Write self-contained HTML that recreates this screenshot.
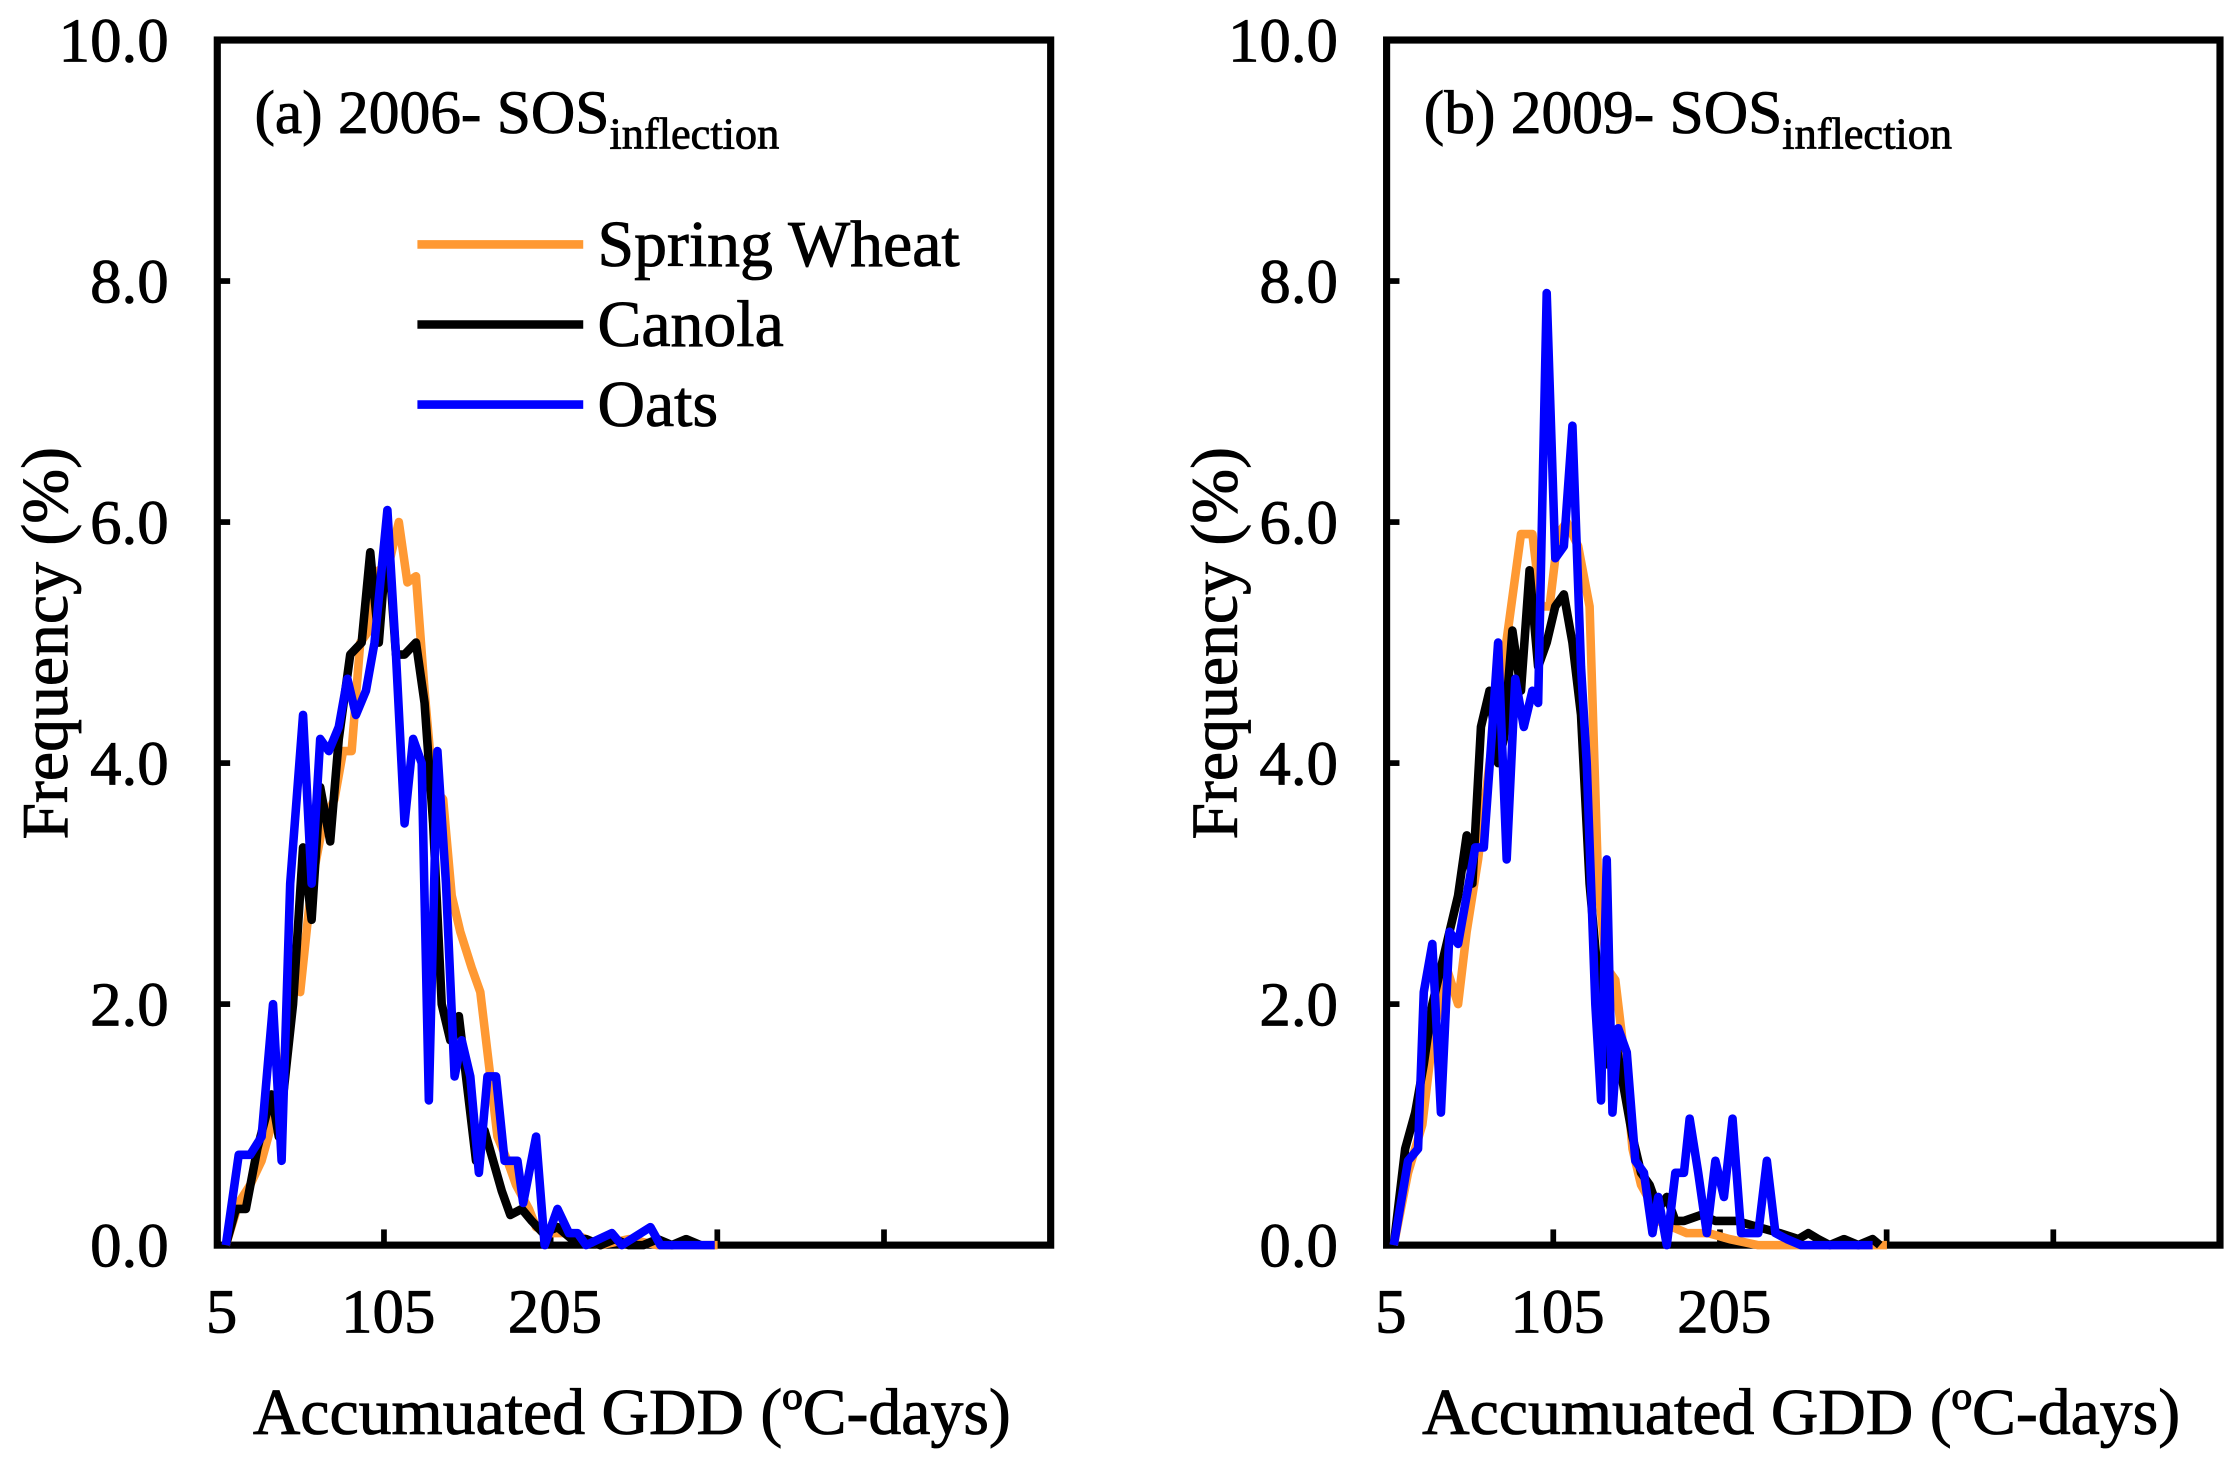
<!DOCTYPE html>
<html><head><meta charset="utf-8"><style>
html,body{margin:0;padding:0;background:#fff;}
svg{display:block;}
text{font-family:"Liberation Serif",serif;fill:#000;stroke:#000;stroke-width:0.6;}
</style></head><body>
<svg id="s" width="2230" height="1466" viewBox="0 0 1560 1025.5" preserveAspectRatio="none" xmlns="http://www.w3.org/2000/svg">
</svg>
<script>
const s=document.getElementById('s');
let h='';
const Y=f=>871-f*84.3;
function panel(ox,title){
  for(let i=0;i<=5;i++){const y=Y(i*2);h+=`<line x1="${ox}" y1="${y}" x2="${ox+9}" y2="${y}" stroke="#000" stroke-width="4"/>`;
    h+=`<text x="${ox-34}" y="${y+15}" font-size="44" text-anchor="end">${(i*2).toFixed(1)}</text>`;}
  [105,205,305,405].forEach(v=>{const x=ox+(v-5)*1.166;h+=`<line x1="${x}" y1="871" x2="${x}" y2="860" stroke="#000" stroke-width="4"/>`;});
  [[5,'5'],[105,'105'],[205,'205']].forEach(([v,t])=>{const x=ox+3+(v-5)*1.166;h+=`<text x="${x}" y="932" font-size="44" text-anchor="middle">${t}</text>`;});
  h+=`<text x="${ox+290}" y="1003" font-size="46" text-anchor="middle">Accumuated GDD (ºC-days)</text>`;
  h+=`<text transform="translate(${ox-105},450) rotate(-90)" font-size="46" text-anchor="middle">Frequency (%)</text>`;
  h+=`<text x="${ox+26}" y="93" font-size="43">${title}<tspan font-size="31" dy="11">inflection</tspan></text>`;
  h+=`<rect x="${ox}" y="28" width="583" height="843" fill="none" stroke="#000" stroke-width="5"/>`;
}
function line(pts,c){h+=`<polyline fill="none" stroke="${c}" stroke-width="6" stroke-linejoin="round" points="${pts.map(p=>p[0]+','+Y(p[1]).toFixed(1)).join(' ')}"/>`;}
panel(152,'(a) 2006- SOS');
panel(970,'(b) 2009- SOS');
[['#ff9933','Spring Wheat',171],['#000','Canola',227],['#0000ff','Oats',283]].forEach(([c,t,y])=>{
 h+=`<line x1="292" y1="${y}" x2="408" y2="${y}" stroke="${c}" stroke-width="6"/><text x="418" y="${y+15}" font-size="46">${t}</text>`;});
const LO=[[158,0],[167,0.35],[175,0.5],[183,0.7],[190,1.0],[197,1.3],[205,2.4],[210,2.1],[218,3.0],[226,3.5],[234,3.7],[240,4.1],[246,4.1],[252,5.0],[258,5.1],[265,5.6],[271,5.6],[279,6.0],[285,5.5],[291,5.55],[297,4.6],[303,3.8],[310,3.7],[316,2.9],[322,2.6],[330,2.3],[336,2.1],[342,1.5],[348,0.9],[355,0.7],[361,0.5],[370,0.3],[375,0.15],[385,0.1],[400,0.1],[410,0.05],[420,0],[440,0.05],[460,0],[480,0],[502,0]];
const LB=[[158,0],[165,0.3],[172,0.3],[180,0.8],[190,1.25],[195,0.9],[205,2.0],[212,3.3],[218,2.7],[224,3.8],[231,3.35],[237,4.2],[245,4.9],[253,5.0],[259,5.75],[265,5.0],[271,5.9],[277,4.9],[283,4.9],[291,5.0],[297,4.5],[303,3.5],[309,2.0],[315,1.7],[321,1.9],[327,1.3],[333,0.7],[339,0.95],[345,0.7],[351,0.45],[357,0.25],[365,0.3],[372,0.2],[380,0.1],[390,0.15],[400,0.05],[410,0.05],[420,0],[430,0.05],[440,0],[450,0],[460,0.05],[470,0],[480,0.05],[490,0]];
const LU=[[158,0],[167,0.75],[175,0.75],[183,0.9],[191,2.0],[197,0.7],[203,3.0],[212,4.4],[218,3.0],[224,4.2],[230,4.1],[237,4.3],[243,4.7],[249,4.4],[256,4.6],[262,5.0],[271,6.1],[277,4.9],[283,3.5],[289,4.2],[295,4.0],[300,1.2],[306,4.1],[312,3.0],[318,1.4],[323,1.7],[329,1.4],[335,0.6],[341,1.4],[347,1.4],[353,0.7],[362,0.7],[366,0.35],[375,0.9],[381,0],[390,0.3],[398,0.1],[404,0.1],[410,0],[428,0.1],[435,0],[455,0.15],[462,0],[500,0]];
const RO=[[975,0],[985,0.6],[995,1.0],[1002,1.7],[1012,2.3],[1020,2.0],[1026,2.6],[1034,3.2],[1042,4.0],[1048,4.5],[1056,5.2],[1064,5.9],[1072,5.9],[1078,5.3],[1084,5.3],[1090,5.9],[1096,6.0],[1104,5.8],[1112,5.3],[1118,3.0],[1124,2.3],[1130,2.2],[1136,1.6],[1142,0.8],[1148,0.5],[1155,0.35],[1160,0.2],[1170,0.15],[1180,0.1],[1195,0.1],[1210,0.05],[1230,0],[1260,0],[1290,0],[1320,0]];
const RB=[[975,0],[983,0.8],[990,1.1],[996,1.5],[1002,2.0],[1008,2.3],[1014,2.6],[1020,2.9],[1026,3.4],[1030,3.0],[1036,4.3],[1042,4.6],[1048,4.0],[1052,4.2],[1058,5.1],[1064,4.6],[1070,5.6],[1076,4.8],[1082,5.0],[1088,5.3],[1094,5.4],[1100,5.0],[1106,4.4],[1112,3.0],[1118,2.2],[1124,1.5],[1130,1.7],[1136,1.3],[1142,0.9],[1148,0.6],[1154,0.5],[1160,0.3],[1166,0.4],[1172,0.2],[1178,0.2],[1190,0.25],[1200,0.2],[1215,0.2],[1230,0.15],[1245,0.1],[1258,0.05],[1265,0.1],[1272,0.05],[1280,0],[1290,0.05],[1300,0],[1310,0.05],[1315,0]];
const RU=[[975,0],[985,0.7],[992,0.8],[996,2.1],[1002,2.5],[1008,1.1],[1014,2.6],[1020,2.5],[1026,2.9],[1032,3.3],[1038,3.3],[1044,4.3],[1048,5.0],[1054,3.2],[1060,4.7],[1066,4.3],[1072,4.6],[1076,4.5],[1082,7.9],[1088,5.7],[1094,5.8],[1100,6.8],[1106,4.8],[1110,4.0],[1116,2.0],[1120,1.2],[1124,3.2],[1128,1.1],[1132,1.8],[1138,1.6],[1144,0.7],[1150,0.6],[1156,0.1],[1160,0.4],[1166,0],[1172,0.6],[1178,0.6],[1182,1.05],[1188,0.6],[1194,0.1],[1200,0.7],[1206,0.4],[1212,1.05],[1218,0.1],[1224,0.1],[1230,0.1],[1236,0.7],[1242,0.1],[1250,0.05],[1260,0],[1280,0],[1310,0]];
line(LO,'#ff9933');line(LB,'#000');line(LU,'#0000ff');
line(RO,'#ff9933');line(RB,'#000');line(RU,'#0000ff');
s.innerHTML=h;
</script>
</body></html>
